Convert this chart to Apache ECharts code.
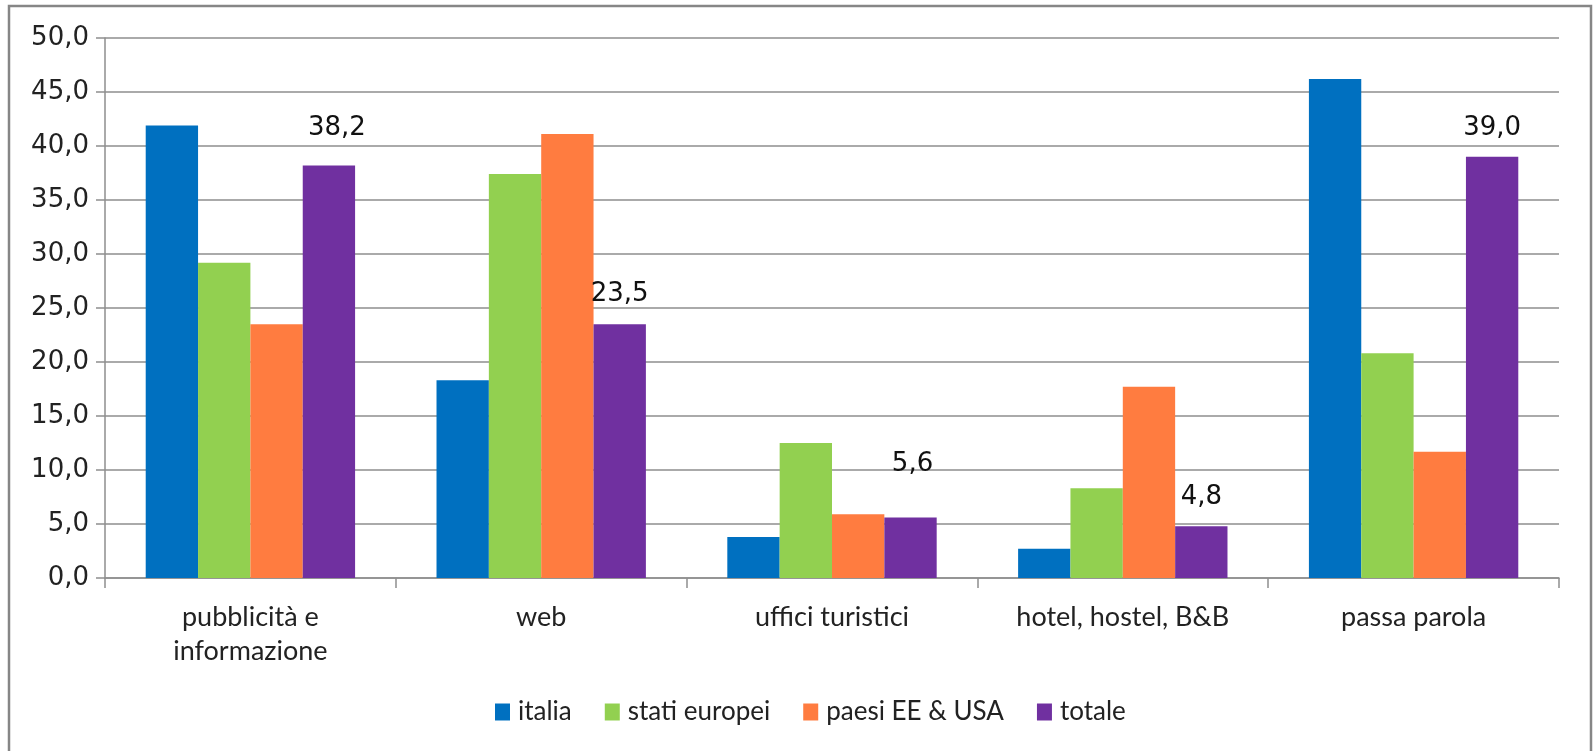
<!DOCTYPE html>
<html>
<head>
<meta charset="utf-8">
<script src="https://cdn.jsdelivr.net/npm/echarts@6/dist/echarts.min.js"></script>
<style>
html,body{margin:0;padding:0;background:#fff;}
#chart{width:1595px;height:751px;}
</style>
</head>
<body>
<div id="chart"></div>
<script>
var categories = ['pubblicità e\ninformazione', 'web', 'uffici turistici', 'hotel, hostel, B&B', 'passa parola'];
var seriesNames = ['italia', 'stati europei', 'paesi EE & USA', 'totale'];
var italia = [41.9, 18.3, 3.8, 2.7, 46.2];
var statiEuropei = [29.2, 37.4, 12.5, 8.3, 20.8];
var paesiEEUSA = [23.5, 41.1, 5.9, 17.7, 11.7];
var totale = [38.2, 23.5, 5.6, 4.8, 39.0];
var yMin = 0, yMax = 50, yInterval = 5;

var colors = ['#0070C0', '#92D050', '#FF7C40', '#7030A0'];
// label nudges for the "totale" data labels (as placed in the original)
var labelNudges = [[8, -8], [0, -1], [2, -24], [0, 0], [0, 0]];

function fmt(v){ return Number(v).toFixed(1).replace('.', ','); }

var chart = echarts.init(document.getElementById('chart'), null, {renderer:'canvas'});
var valuesList = [italia, statiEuropei, paesiEEUSA, totale];
var series = valuesList.map(function(vals, i){
  var s = {
    name: seriesNames[i],
    type: 'bar',
    barGap: '0%',
    barCategoryGap: '28%',
    itemStyle: {color: colors[i]},
    data: vals.slice()
  };
  if (i === 3) {
    s.data = vals.map(function(v, k){
      return {value: v, label: {offset: labelNudges[k]}};
    });
    s.label = {
      show: true,
      position: 'top',
      distance: 16,
      formatter: function(p){ return fmt(p.value); },
      fontFamily: 'DejaVu Sans',
      fontSize: 26,
      color: '#111'
    };
  }
  return s;
});

chart.setOption({
  animation: false,
  backgroundColor: '#fff',
  grid: {left: 105, right: 36, top: 38, bottom: 173, containLabel: false},
  legend: {
    data: seriesNames,
    left: 490,
    top: 694,
    icon: 'rect',
    itemWidth: 15,
    itemHeight: 17,
    itemGap: 33,
    textStyle: {fontFamily: 'Lato', fontSize: 26, color: '#222', padding: [0,0,0,3]}
  },
  xAxis: {
    type: 'category',
    data: categories,
    axisLine: {show: true, lineStyle: {color: '#8e8e8e', width: 1.5}},
    axisTick: {show: true, alignWithLabel: false, length: 10, lineStyle: {color: '#8e8e8e', width: 1.5}},
    axisLabel: {fontFamily: 'Lato', fontSize: 27, color: '#222', margin: 22, lineHeight: 34, interval: 0},
    splitLine: {show: false}
  },
  yAxis: {
    type: 'value',
    min: yMin, max: yMax, interval: yInterval,
    axisLine: {show: true, lineStyle: {color: '#8e8e8e', width: 1.5}},
    axisTick: {show: true, length: 9, lineStyle: {color: '#8e8e8e', width: 1.5}},
    axisLabel: {fontFamily: 'DejaVu Sans', fontSize: 26, color: '#222', margin: 16, formatter: fmt},
    splitLine: {show: true, lineStyle: {color: '#8e8e8e', width: 1.5}}
  },
  graphic: [{
    type: 'rect',
    shape: {x: 9, y: 6, width: 1582, height: 760},
    style: {fill: null, stroke: '#868686', lineWidth: 2.5},
    silent: true,
    z: -1
  }],
  series: series
});
</script>
</body>
</html>
